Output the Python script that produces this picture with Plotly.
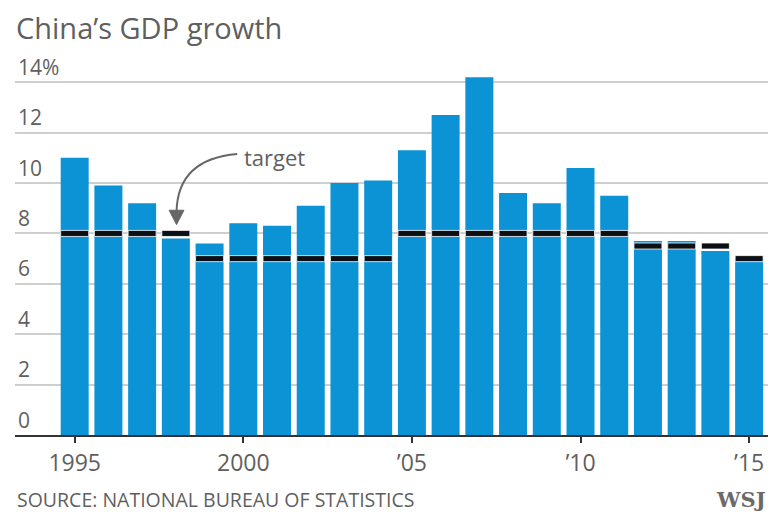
import plotly.graph_objects as go

years = list(range(1995, 2016))
growth = [11.0, 9.9, 9.2, 7.8, 7.6, 8.4, 8.3, 9.1, 10.0, 10.1, 11.3, 12.7, 14.2,
          9.6, 9.2, 10.6, 9.5, 7.7, 7.7, 7.3, 6.9]
target = [8, 8, 8, 8, 7, 7, 7, 7, 7, 7, 8, 8, 8, 8, 8, 8, 8, 7.5, 7.5, 7.5, 7]
ytick_vals = [0, 2, 4, 6, 8, 10, 12, 14]
ytick_text = ["0", "2", "4", "6", "8", "10", "12", "14%"]
xtick_vals = [1995, 2000, 2005, 2010, 2015]
xtick_text = ["1995", "2000", "\u201905", "\u201910", "\u201915"]

FONT = "Open Sans"
GREY = "#5f5f5f"
BLUE = "#0b93d6"
band = 0.24

fig = go.Figure()
fig.add_trace(go.Bar(x=years, y=growth, width=0.83, marker=dict(color=BLUE, line=dict(width=0)),
                     hoverinfo="x+y"))
fig.add_trace(go.Bar(x=years, y=[band] * len(target), base=[t - band / 2 for t in target],
                     width=0.83, marker=dict(color="#0d0f14", line=dict(color="white", width=0.8)),
                     hoverinfo="skip"))

# curved arrow pointing to target
fig.add_shape(type="path", xref="x", yref="y",
              path="M 1999.82,11.15 Q 1998.05,10.95 1998.02,8.85",
              line=dict(color="#666", width=2))
fig.add_shape(type="path", xref="x", yref="y",
              path="M 1997.80,8.92 L 1998.24,8.92 L 1998.02,8.35 Z",
              fillcolor="#666", line=dict(color="#666", width=1))

fig.add_annotation(x=1999.95, y=11.05, xref="x", yref="y", text="target", showarrow=False,
                   xanchor="left", yanchor="middle", font=dict(family=FONT, size=22, color=GREY))
fig.add_annotation(x=0, y=1.056, xref="paper", yref="paper", text="China\u2019s GDP growth",
                   showarrow=False, xanchor="left", yanchor="middle", borderpad=0,
                   font=dict(family=FONT, size=29, color=GREY))
fig.add_annotation(x=0, y=-0.168, xref="paper", yref="paper",
                   text="SOURCE: NATIONAL BUREAU OF STATISTICS", showarrow=False,
                   xanchor="left", yanchor="middle", font=dict(family=FONT, size=19.5, color=GREY))
fig.add_annotation(x=1, y=-0.168, xref="paper", yref="paper", text="<b>WSJ</b>",
                   showarrow=False, xanchor="right", yanchor="middle",
                   font=dict(family="DejaVu Serif", size=21, color="#6a6a6a"))

fig.update_layout(
    width=769, height=509,
    margin=dict(l=7, r=9, t=41, b=82),
    paper_bgcolor="white", plot_bgcolor="white",
    barmode="overlay", showlegend=False,
    xaxis=dict(range=[1993.23, 2015.56], tickvals=xtick_vals, ticktext=xtick_text,
               ticks="outside", ticklen=6, tickwidth=2, tickcolor="#333",
               showline=True, linecolor="#333", linewidth=2, showgrid=False, zeroline=False,
               tickfont=dict(family=FONT, size=23, color=GREY)),
    yaxis=dict(range=[0, 15.32], tickvals=ytick_vals, ticktext=ytick_text,
               ticklabelposition="inside top", showgrid=True, gridcolor="#cfcfcf", gridwidth=2,
               zeroline=False, showline=False, ticks="",
               tickfont=dict(family=FONT, size=21, color=GREY)),
)

fig.write_html("out.html")
